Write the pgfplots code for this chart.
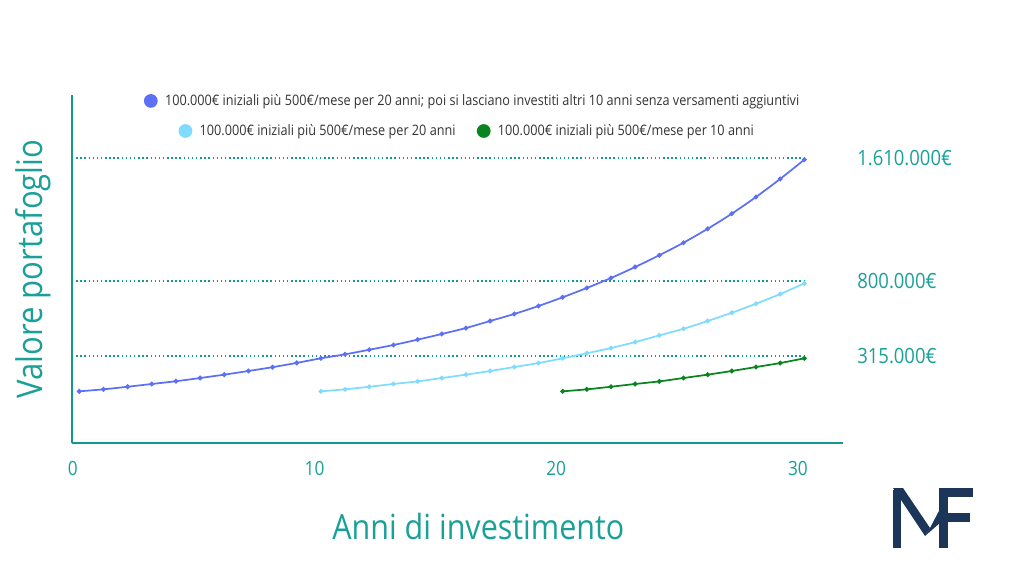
\documentclass[border=0pt]{standalone}
\usepackage{fontspec}
\setmainfont{Open Sans}[FakeStretch=0.88]
\usepackage{pgfplots}
\pgfplotsset{compat=1.18}

\definecolor{axisteal}{RGB}{19,153,143}
\definecolor{textteal}{RGB}{27,160,152}
\definecolor{serblue}{RGB}{92,112,245}
\definecolor{serlight}{RGB}{128,220,255}
\definecolor{sergreen}{RGB}{10,132,30}
\definecolor{legtext}{RGB}{51,51,51}
\definecolor{logo}{RGB}{27,54,88}

\pgfplotsset{
  frame/.style={
    at={(54pt,99.75pt)}, anchor=south west,
    scale only axis, width=578.25pt, height=261pt,
    xmin=-0.3, xmax=31.6, ymin=-238, ymax=2038,
    clip=false,
  },
  dotline/.style={axisteal, line width=1.1pt, dash pattern=on 1.1pt off 2pt, forget plot},
  ser/.style={#1, line width=1.3pt, smooth, mark=*, mark size=1.1pt, mark options={fill=#1, draw=#1}},
  dotlegend/.style={
    draw=none, fill=none, anchor=center,
    font=\fontsize{10.8}{12}\selectfont, text=legtext,
    legend cell align=left,
    /tikz/every even column/.append style={column sep=14pt},
  },
  legend image code/.code={\fill[#1] (0pt,0pt) circle (4.5pt); \path (-4.5pt,0pt) (8pt,0pt);},
}

\begin{document}
\begin{tikzpicture}
\path[use as bounding box] (0,0) rectangle (768pt,432pt);

\begin{axis}[frame,
  axis x line*=bottom, axis y line*=left,
  axis line style={-, axisteal, line width=1.6pt},
  xtick={0,10,20,30}, ytick=\empty,
  major tick length=0pt,
  tick label style={font=\fontsize{14.7}{16}\selectfont, text=textteal},
  xticklabel style={yshift=-10pt, xshift=-4.8pt},
  /pgf/number format/assume math mode=true,
  xlabel={Anni di investimento},
  ylabel={Valore portafoglio},
  every axis x label/.style={at={(axis description cs:0.527,-0.2385)}, anchor=center,
    font=\fontsize{26}{30}\selectfont, text=textteal},
  every axis y label/.style={at={(axis description cs:-0.0506,0.5)}, anchor=center, rotate=90,
    font=\fontsize{26.5}{30}\selectfont, text=textteal},
  legend style={dotlegend, at={(axis description cs:0.52,0.983)}},
]
% reference levels
\addplot[dotline] coordinates {(-0.3,1626) (30,1626)};
\addplot[dotline] coordinates {(-0.3,821) (30,821)};
\addplot[dotline] coordinates {(-0.3,331) (30,331)};

% 20 anni di versamenti + 10 anni fermi
\addplot[ser=serblue] coordinates {
 (0,100) (1,113) (2,130) (3,148) (4,166) (5,187) (6,209) (7,233) (8,258) (9,286)
 (10,316) (11,342) (12,372) (13,403) (14,438) (15,475) (16,514) (17,560) (18,606) (19,658)
 (20,715) (21,776) (22,841) (23,913) (24,990) (25,1072) (26,1163) (27,1262) (28,1371) (29,1489)
 (30,1615)};
\addlegendentry{100.000€ iniziali più 500€/mese per 20 anni; poi si lasciano investiti altri 10 anni senza versamenti aggiuntivi}

\node[anchor=west, inner sep=0pt, font=\fontsize{15.75}{18}\selectfont, text=textteal] at (axis cs:32.18,1626) {1.610.000€};
\node[anchor=west, inner sep=0pt, font=\fontsize{15.75}{18}\selectfont, text=textteal] at (axis cs:32.18,821) {800.000€};
\node[anchor=west, inner sep=0pt, font=\fontsize{15.75}{18}\selectfont, text=textteal] at (axis cs:32.18,331) {315.000€};
\end{axis}

\begin{axis}[frame, hide axis,
  legend columns=2,
  legend style={dotlegend, at={(axis description cs:0.513,0.8966)}},
]
\addplot[ser=serlight] coordinates {
 (10,100) (11,113) (12,130) (13,148) (14,165) (15,187) (16,209) (17,233) (18,259) (19,285)
 (20,316) (21,349) (22,383) (23,422) (24,466) (25,509) (26,560) (27,614) (28,673) (29,736)
 (30,806)};
\addlegendentry{100.000€ iniziali più 500€/mese per 20 anni}
\addplot[ser=sergreen] coordinates {
 (20,100) (21,113) (22,130) (23,148) (24,165) (25,187) (26,209) (27,233) (28,259) (29,285)
 (30,316)};
\addlegendentry{100.000€ iniziali più 500€/mese per 10 anni}
\end{axis}

% logo
\begin{scope}[shift={(0pt,432pt)}, x=0.75pt, y=-0.75pt]
\fill[logo] (893,490) rectangle (901,548);
\fill[logo] (893,488) -- (903,488) -- (930,528) -- (925,536) -- cycle;
\fill[logo] (925,536) -- (930,528) -- (941,507) -- (941,522) -- cycle;
\fill[logo] (939,488) rectangle (948,548);
\fill[logo] (939,488) rectangle (973,497);
\fill[logo] (948,513) rectangle (970,522);
\end{scope}
\end{tikzpicture}
\end{document}
